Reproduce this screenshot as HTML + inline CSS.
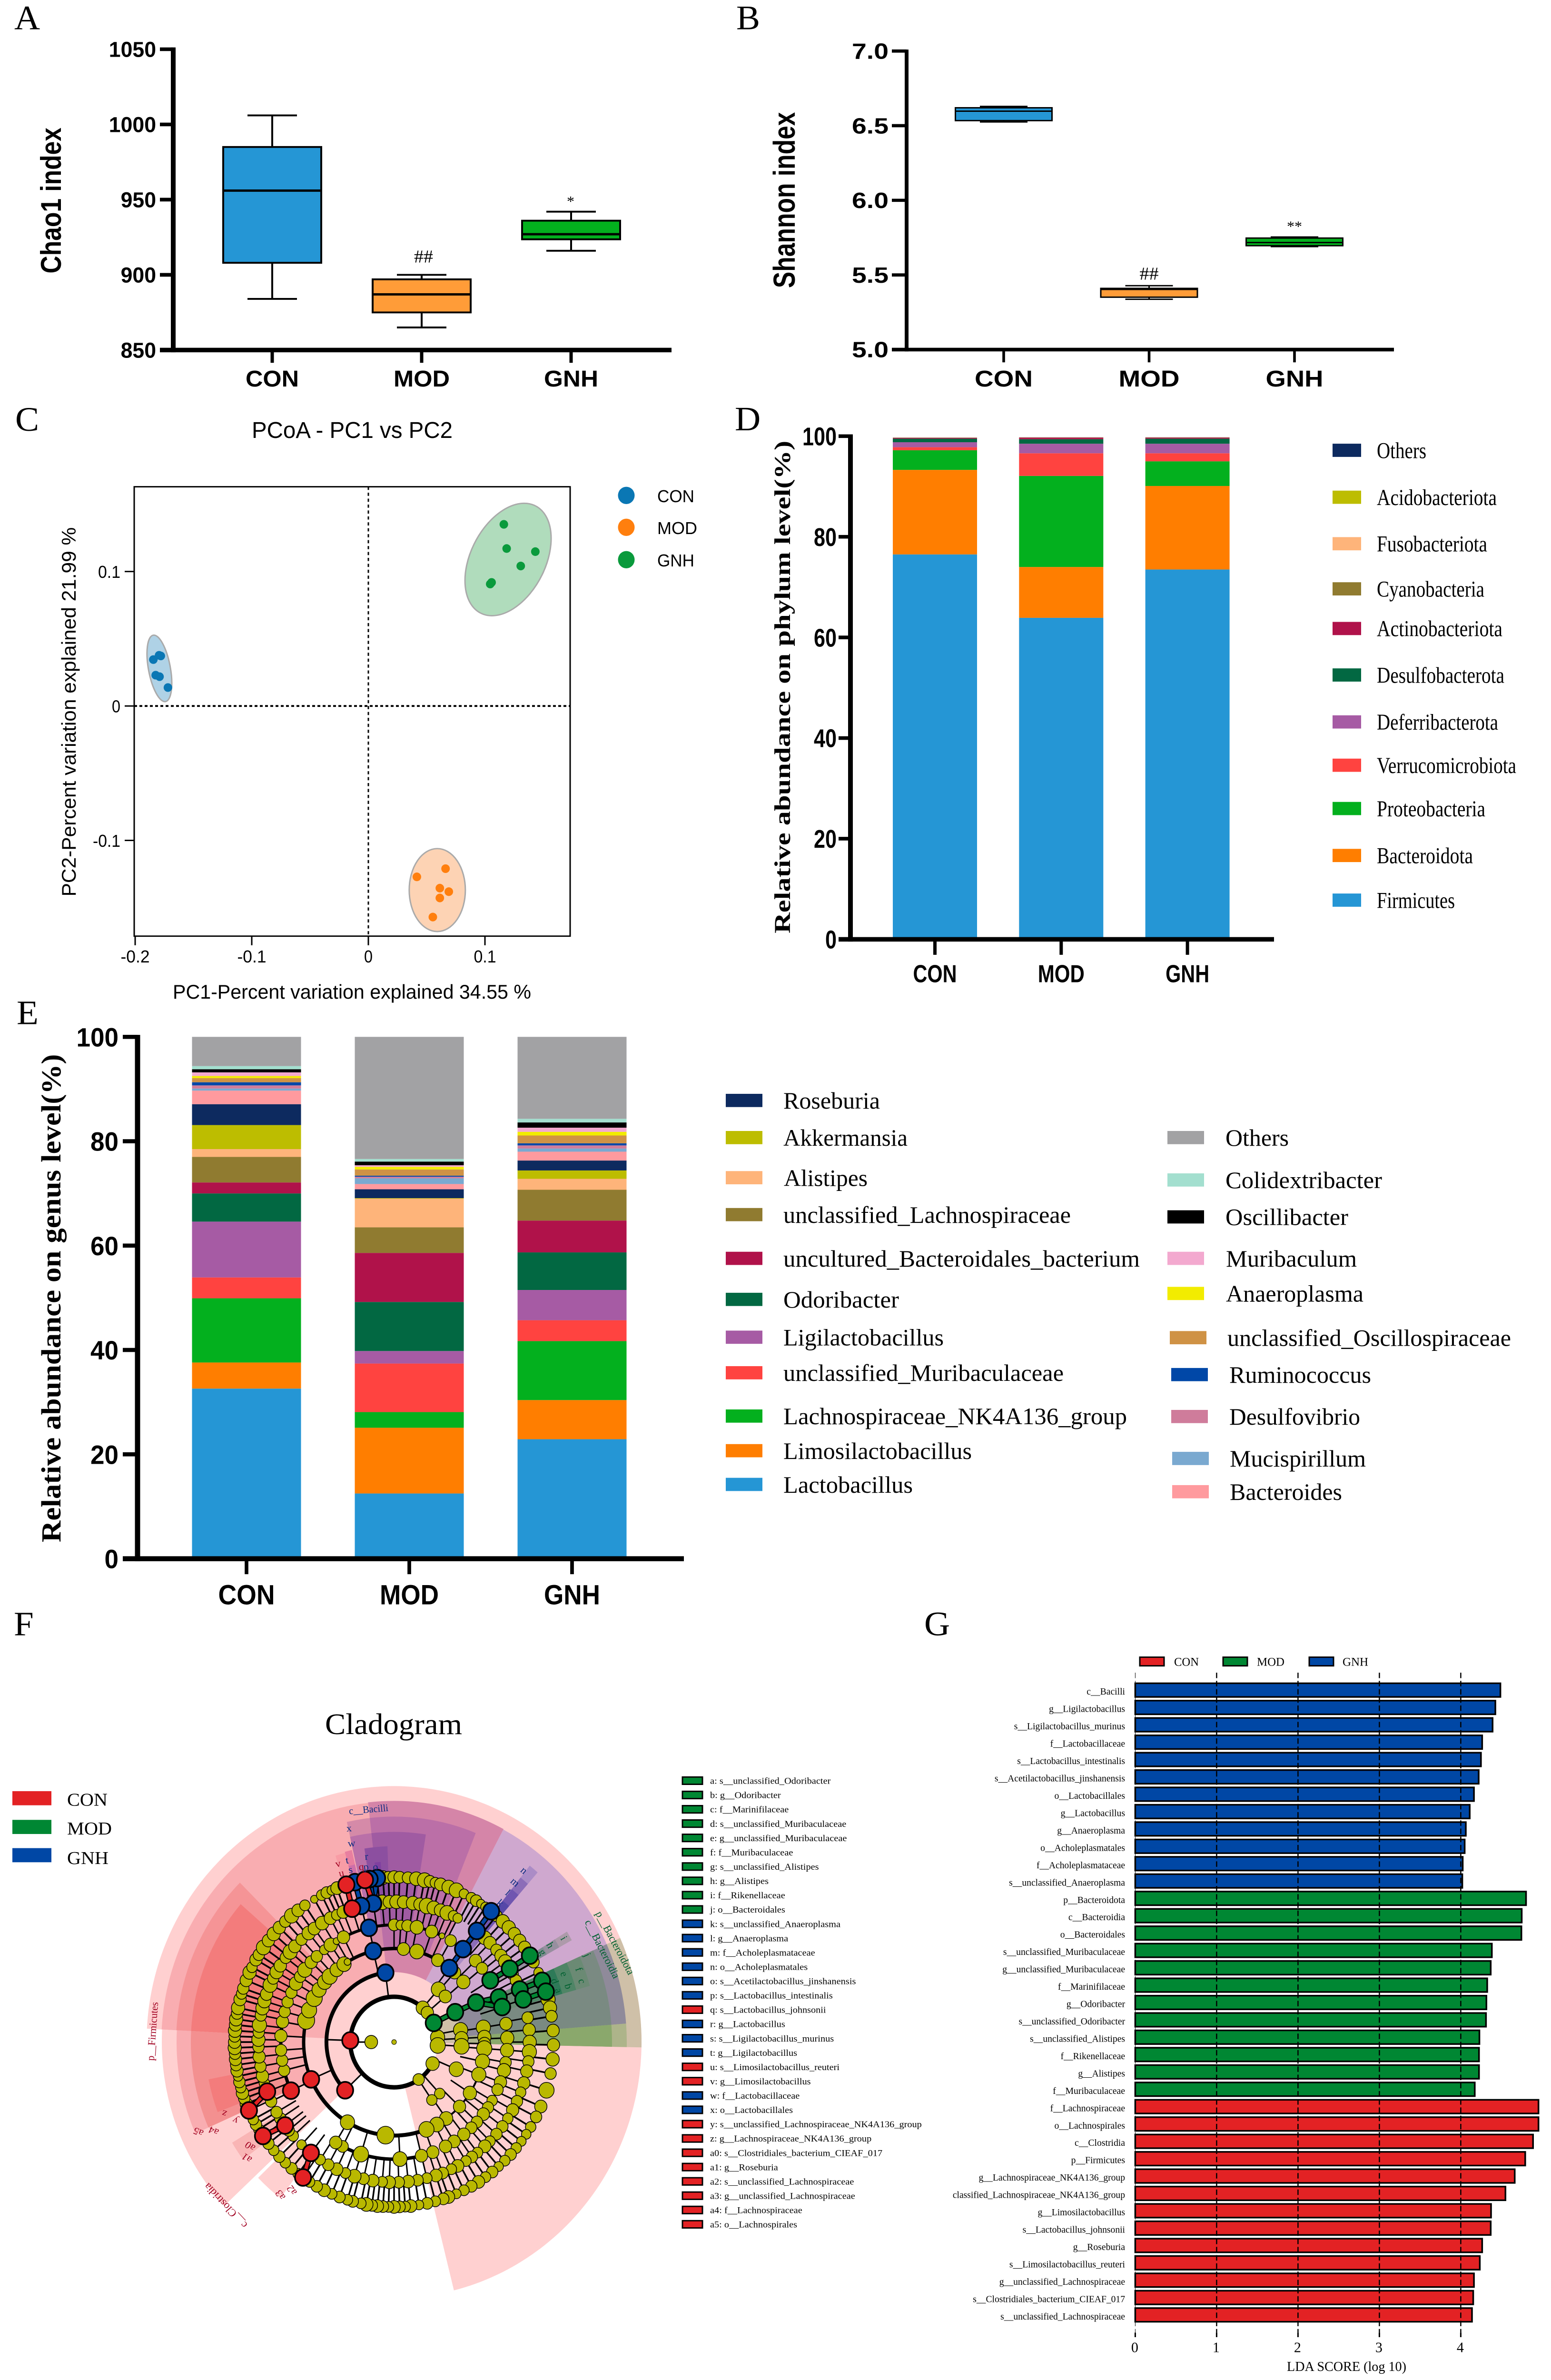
<!DOCTYPE html>
<html lang="en">
<head>
<meta charset="utf-8">
<title>Gut microbiota figure panels A-G</title>
<style>
html,body{margin:0;padding:0;background:#fff;width:100%;height:100%;overflow:hidden;}
svg{display:block;overflow:hidden;width:100vw;height:100vh;}
</style>
</head>
<body>
<svg id="figure" xmlns="http://www.w3.org/2000/svg" viewBox="0 0 3259 5222" preserveAspectRatio="none">
<rect width="3259" height="5222" fill="#fff"/>
<g id="panel-a"></g>
<g id="panel-b"></g>
<g id="panel-c"></g>
<g id="panel-d"></g>
<g id="panel-e"></g>
<g id="panel-f"></g>
<g id="panel-g"></g>
<g id="panel-letters"></g>
</svg>
<script>
/* ---------- chart data ---------- */
const groups = ['CON','MOD','GNH'];

// Panel A: Chao1
const chaoTicks = [850,900,950,1000,1050];
const chaoLow  = [884,865,916];
const chaoQ1   = [908,875,923.6];
const chaoMed  = [956,887,927];
const chaoQ3   = [985,897,936];
const chaoHigh = [1006,900,942];
const chaoMarks = ['','##','*'];

// Panel B: Shannon
const shannonTicks = ['5.0','5.5','6.0','6.5','7.0'];
const shannonLow  = [6.525,5.337,5.69];
const shannonQ1   = [6.534,5.351,5.696];
const shannonMed  = [6.597,5.403,5.717];
const shannonQ3   = [6.62,5.41,5.747];
const shannonHigh = [6.629,5.428,5.754];
const shannonMarks = ['','##','**'];

// Panel C: PCoA
const pcYTicks = ['0.1','0','-0.1'];
const pcYValues = [0.1,0,-0.1];
const pcXTicks = ['-0.2','-0.1','0','0.1'];
const pcXValues = [-0.2,-0.1,0,0.1];
const pc1Con = [-0.1795,-0.178,-0.1844,-0.1824,-0.1791,-0.1719];
const pc2Con = [0.0377,0.0372,0.0345,0.0229,0.0218,0.0137];
const pc1Mod = [0.0662,0.0416,0.0613,0.069,0.0613,0.0553];
const pc2Mod = [-0.121,-0.1271,-0.1355,-0.1381,-0.1428,-0.157];
const pc1Gnh = [0.1162,0.1186,0.1432,0.1307,0.1057,0.1045];
const pc2Gnh = [0.1351,0.1171,0.1148,0.1041,0.0919,0.0907];

// Panel D: phylum (bottom to top)
const phylumNames = ['Firmicutes','Bacteroidota','Proteobacteria','Verrucomicrobiota','Deferribacterota','Desulfobacterota','Actinobacteriota','Cyanobacteria','Fusobacteriota','Acidobacteriota','Others'];
const phylumCon = [76.5,16.8,3.9,0.6,1.0,0.7,0.15,0.03,0.02,0.02,0.02];
const phylumMod = [63.9,10.1,18.1,4.5,1.9,0.9,0.3,0.03,0.02,0.02,0.02];
const phylumGnh = [73.5,16.6,4.9,1.6,1.9,1.0,0.2,0.03,0.02,0.02,0.02];
const percentTicks = [0,20,40,60,80,100];

// Panel E: genus (bottom to top)
const genusNames = ['Lactobacillus','Limosilactobacillus','Lachnospiraceae_NK4A136_group','unclassified_Muribaculaceae','Ligilactobacillus','Odoribacter','uncultured_Bacteroidales_bacterium','unclassified_Lachnospiraceae','Alistipes','Akkermansia','Roseburia','Bacteroides','Mucispirillum','Desulfovibrio','Ruminococcus','unclassified_Oscillospiraceae','Anaeroplasma','Muribaculum','Oscillibacter','Colidextribacter','Others'];
const genusCon = [32.6,5,12.3,4,10.7,5.4,2.1,4.9,1.5,4.6,4,2.6,0.4,0.6,0.6,0.8,0.4,0.7,0.6,0.6,5.6];
const genusMod = [12.5,12.6,3,9.3,2.4,9.4,9.4,4.9,5.5,0.1,1.7,1,1.1,0.3,0.2,1.2,0.5,0.3,0.7,0.5,23.4];
const genusGnh = [22.9,7.5,11.3,4,5.8,7.2,6.1,5.9,2.1,1.6,1.9,1.7,0.6,0.6,0.4,1.5,0.7,0.8,1,0.7,15.7];

// Panel G: LDA
const ldaLabels = ['c__Bacilli','g__Ligilactobacillus','s__Ligilactobacillus_murinus','f__Lactobacillaceae','s__Lactobacillus_intestinalis','s__Acetilactobacillus_jinshanensis','o__Lactobacillales','g__Lactobacillus','g__Anaeroplasma','o__Acholeplasmatales','f__Acholeplasmataceae','s__unclassified_Anaeroplasma','p__Bacteroidota','c__Bacteroidia','o__Bacteroidales','s__unclassified_Muribaculaceae','g__unclassified_Muribaculaceae','f__Marinifilaceae','g__Odoribacter','s__unclassified_Odoribacter','s__unclassified_Alistipes','f__Rikenellaceae','g__Alistipes','f__Muribaculaceae','f__Lachnospiraceae','o__Lachnospirales','c__Clostridia','p__Firmicutes','g__Lachnospiraceae_NK4A136_group','classified_Lachnospiraceae_NK4A136_group','g__Limosilactobacillus','s__Lactobacillus_johnsonii','g__Roseburia','s__Limosilactobacillus_reuteri','g__unclassified_Lachnospiraceae','s__Clostridiales_bacterium_CIEAF_017','s__unclassified_Lachnospiraceae'];
const ldaValues = [4.487,4.425,4.391,4.263,4.248,4.22,4.162,4.11,4.062,4.048,4.024,4.019,4.802,4.749,4.745,4.382,4.368,4.325,4.315,4.31,4.229,4.224,4.224,4.172,4.955,4.955,4.888,4.792,4.663,4.549,4.372,4.368,4.263,4.234,4.162,4.153,4.138];
const ldaGroups = ['GNH','GNH','GNH','GNH','GNH','GNH','GNH','GNH','GNH','GNH','GNH','GNH','MOD','MOD','MOD','MOD','MOD','MOD','MOD','MOD','MOD','MOD','MOD','MOD','CON','CON','CON','CON','CON','CON','CON','CON','CON','CON','CON','CON','CON'];
const ldaTicks = [0,1,2,3,4];

// Panel F: cladogram nodes [angle in degrees, abundance size]
const level190 = [[351,15],[357,14],[1,13],[4,16],[12,15],[20.4,15],[33,14],[43.6,13],[54.8,14],[61.8,15],[69,16],[95.4,18],[121,15],[193.4,18],[200,16],[208,17],[214,15],[219.9,15],[224.6,16],[230.6,14],[236.4,15],[239,7],[276,13],[284.6,15],[298.9,13],[312,13],[320,14]];
const level142 = [[350,15],[357,14],[3.5,16],[22.9,15],[47.5,11],[56,11],[311,15],[319.3,13]];
const level92 = [[311,14],[319.5,13],[354,15],[4.3,16],[28.4,14],[55.8,12]];
const level238 = [[351,13],[358,14],[4,14],[10,12],[14,14],[20,13],[24,12],[30,11],[34,12],[38,13],[43,12],[47,12],[52,13],[58,13],[63,13],[70,13],[76,13],[87,15],[107,16],[117,12],[121,13],[166,12],[171,12],[176,12],[183,13],[190,13],[195,12],[200,12],[205,12],[210,14],[214,12],[218,15],[223,13],[227,12],[232,10],[236,14],[239.5,7],[243.5,13],[270,12],[273.4,10],[276.8,12],[281.6,14],[289.4,13],[295,6],[300,12],[316,13],[321,12]];
const level285 = [[350,12],[355,13],[0,14],[4,15],[8,12],[12,13],[17,13],[21,11],[25,12],[29,13],[33,11],[37,12],[41,12],[45,11],[48,13],[52,11],[55,12],[58,11],[62,13],[65,11],[69,12],[72,13],[76,11],[80,12],[84,13],[88,12],[92,13],[95,11],[99,13],[103,12],[107,14],[111,11],[115,13],[119,12],[123,11],[133,10],[138,11],[141,12],[147,12],[150,12],[155,12],[163,11],[166,13],[170,12],[174,13],[178,12],[181,14],[184,12],[187,15],[191,12],[194,14],[197,14],[200,13],[204,15],[207,12],[210,14],[213,13],[217,12],[220,15],[223,13],[227,12],[231,14],[234,13],[238,14],[242,13],[245,11],[248,13],[265,15],[268,13],[271,14],[274,13],[278,14],[281,13],[284,16],[287,14],[290,13],[293,15],[296,11],[298,10],[312,14],[315,13],[319,12],[322,13],[325,14],[331,12],[334,12]];
const level335 = [[345,15],[348,14],[351,12],[356,13],[1,13],[6,14],[11,12],[17,16],[23,13],[27,12],[31,11],[34,10],[37,10],[40,11],[43,12],[46,11],[49,10],[52,12],[55,11],[58,13],[61,12],[64,11],[67,10],[70,13],[72,12],[75,11],[78,12],[81,10],[84,13],[86,11],[88,12],[90,13],[92,11],[94,12],[96,13],[98,12],[100,14],[102,11],[105,12],[107,11],[110,12],[113,11],[116,13],[119,12],[122,11],[127,11],[130,12],[133,11],[136,12],[139,11],[142,12],[148,11],[150,12],[152,11],[158,13],[160,12],[162,13],[164,11],[166,12],[168,10],[170,13],[172,12],[174,13],[176,12],[178,14],[180,13],[182,12],[184,14],[186,13],[188,14],[190,12],[192,14],[195,13],[197,11],[199,12],[202,13],[205,14],[207,11],[210,13],[212,12],[215,15],[218,13],[221,14],[224,13],[227,12],[230,15],[233,13],[236,11],[240,8],[243,11],[245,12],[247,10],[249,13],[266,14],[268,12],[270,13],[272,12],[275,12],[278,14],[281,15],[283,12],[285,11],[287,13],[290,14],[293,15],[296,10],[299,11],[301,12],[303,9],[305,10],[310,12],[313,14],[316,14],[319,13],[322,13],[325,13],[331,12],[335,10]];
// enriched clades: [level radius index, angle, group]
const enrichedNodes = [[2,182,'CON'],[3,136.4,'CON'],[4,156.5,'CON'],[5,155.5,'CON'],[6,159.3,'CON'],[7,155.5,'CON'],[6,143.5,'CON'],[7,145.3,'CON'],[6,127.8,'CON'],[7,124.8,'CON'],
[3,262.7,'GNH'],[4,256.7,'GNH'],[5,257.2,'GNH'],[6,261.2,'GNH'],[7,263.9,'GNH'],[6,256,'GNH'],[7,255.8,'GNH'],[7,261.2,'GNH'],[4,307.7,'GNH'],[5,307.5,'GNH'],[6,307.6,'GNH'],[7,307.5,'GNH'],
[6,252,'CON'],[7,252.6,'CON'],[7,259.5,'CON'],
[2,335,'MOD'],[3,334.7,'MOD'],[4,335,'MOD'],[5,337.6,'MOD'],[5,342.6,'MOD'],[5,328.2,'MOD'],[6,328.5,'MOD'],[7,328.4,'MOD'],[6,338,'MOD'],[7,338.2,'MOD'],[6,342.3,'MOD'],[7,342.2,'MOD']];

/* ---------- helpers ---------- */
const NS = 'http://www.w3.org/2000/svg';
const SANS = '"Liberation Sans", sans-serif';
const SERIF = '"Liberation Serif", serif';
const C_BLUE='#2596d5', C_ORANGE='#ff9c38', C_GREEN='#03b01e';

function add(parent, tag, attrs, name) {
  const el = document.createElementNS(NS, tag);
  for (const k in attrs) el.setAttribute(k, attrs[k]);
  
  
  parent.appendChild(el);
  return el;
}
function line(p, x1, y1, x2, y2, w, name, extra) {
  return add(p, 'line', Object.assign({x1, y1, x2, y2, stroke:'#000', 'stroke-width':w}, extra || {}), name);
}
// o: size, len, anchor, font, weight, fill, rot
function txt(p, str, x, y, o, name) {
  const a = {'font-family':o.font || SERIF, 'font-size':o.size, fill:o.fill || '#000'};
  if (o.weight) a['font-weight'] = o.weight;
  let dx = 0;
  if (o.len) {
    a.textLength = o.len;
    a.lengthAdjust = 'spacingAndGlyphs';
    if (o.anchor === 'end') dx = -o.len;
    if (o.anchor === 'middle') dx = -o.len / 2;
  } else if (o.anchor) {
    a['text-anchor'] = o.anchor;
  }
  a.x = dx; a.y = 0;
  a.transform = 'translate(' + x + ' ' + y + ')' + (o.rot ? ' rotate(' + o.rot + ')' : '');
  const el = add(p, 'text', a, name);
  el.textContent = str;
  return el;
}
function slug(s){ return s.toLowerCase().replace(/[^a-z0-9]+/g,'-').replace(/^-|-$/g,''); }

/* ---------- panel letters ---------- */
(function(){
  const g = document.getElementById('panel-letters');
  txt(g,'A',30,64,{size:75},'panel-letter-a');
  txt(g,'B',1547,64,{size:75},'panel-letter-b');
  txt(g,'C',32,945,{size:75},'panel-letter-c');
  txt(g,'D',1544,944,{size:75},'panel-letter-d');
  txt(g,'E',35,2247,{size:75},'panel-letter-e');
  txt(g,'F',29,3588,{size:75},'panel-letter-f');
  txt(g,'G',1942,3588,{size:75},'panel-letter-g');
})();

/* ---------- box plots ---------- */
function boxPlot(g, cfg) {
  const boxFill = [C_BLUE, C_ORANGE, C_GREEN];
  groups.forEach(function(cat, i){
    const cx = cfg.x(i);
    const gb = add(g,'g',{},'box-'+slug(cat));
    line(gb,cx,cfg.y(cfg.high[i]),cx,cfg.y(cfg.low[i]),cfg.sw,'whisker-'+slug(cat));
    line(gb,cx-cfg.cap,cfg.y(cfg.high[i]),cx+cfg.cap,cfg.y(cfg.high[i]),cfg.sw,'whisker-cap-high-'+slug(cat));
    line(gb,cx-cfg.cap,cfg.y(cfg.low[i]),cx+cfg.cap,cfg.y(cfg.low[i]),cfg.sw,'whisker-cap-low-'+slug(cat));
    add(gb,'rect',{x:cx-cfg.half,y:cfg.y(cfg.q3[i]),width:cfg.half*2,height:cfg.y(cfg.q1[i])-cfg.y(cfg.q3[i]),fill:boxFill[i],stroke:'#000','stroke-width':cfg.sw},'box-body-'+slug(cat));
    line(gb,cx-cfg.half,cfg.y(cfg.med[i]),cx+cfg.half,cfg.y(cfg.med[i]),cfg.medw,'median-'+slug(cat));
    if (cfg.marks[i]) {
      const up = cfg.marks[i].charAt(0)==='#' ? cfg.hashGap : cfg.starGap;
      txt(gb,cfg.marks[i],cx+cfg.markDx[i],cfg.y(cfg.high[i])-up,{size:cfg.marks[i].charAt(0)==='#'?40:32,anchor:'middle'},'significance-mark-'+slug(cat));
    }
  });
}
function catAxis(g, x0, top, bottom, leftTick, xEnd, axisW, tickLen, xs, labels, labelY, labelSize, labelLens) {
  line(g,x0,top-axisW*0.4,x0,bottom+axisW/2,axisW,'y-axis-line');
  line(g,leftTick,bottom,xEnd,bottom,axisW,'x-axis-line');
  labels.forEach(function(c,i){
    line(g,xs(i),bottom,xs(i),bottom+tickLen,axisW*0.7,'x-tick-'+slug(c));
    txt(g,c,xs(i),labelY,{font:SANS,weight:'bold',size:labelSize,anchor:'middle',len:labelLens[i]},'x-label-'+slug(c));
  });
}

(function(){
  const g = document.getElementById('panel-a');
  const y = function(v){ return 768-(v-850)*3.3; };
  const x = function(i){ return 572+314*i; };
  boxPlot(g,{x:x,y:y,low:chaoLow,q1:chaoQ1,med:chaoMed,q3:chaoQ3,high:chaoHigh,marks:chaoMarks,half:103,cap:52,sw:4,medw:5,hashGap:27,starGap:12,markDx:[0,4,-1]});
  catAxis(g,364,y(1050),768,336,1411,10,28,x,groups,848,50,[112,118,114]);
  chaoTicks.forEach(function(t){
    line(g,336,y(t),364,y(t),8,'y-tick-'+t);
    txt(g,String(t),328,y(t)+17,{font:SANS,weight:'bold',size:47,anchor:'end',len:String(t).length*24.8},'y-tick-label-'+t);
  });
  txt(g,'Chao1 index',128,600,{font:SANS,weight:'bold',size:60,len:320,rot:-90},'y-axis-title');
})();

(function(){
  const g = document.getElementById('panel-b');
  const y = function(v){ return 767-(v-5)*327.5; };
  const x = function(i){ return 2109+305.5*i; };
  boxPlot(g,{x:x,y:y,low:shannonLow,q1:shannonQ1,med:shannonMed,q3:shannonQ3,high:shannonHigh,marks:shannonMarks,half:101.5,cap:50,sw:3,medw:3,hashGap:13,starGap:13,markDx:[0,0,0]});
  catAxis(g,1905,y(7),767,1874,2929,8,28,x,groups,848,50,[122,128,121]);
  shannonTicks.forEach(function(t){
    const v = parseFloat(t);
    line(g,1874,y(v),1905,y(v),7,'y-tick-'+slug(t));
    txt(g,t,1867,y(v)+17,{font:SANS,weight:'bold',size:48,anchor:'end',len:77},'y-tick-label-'+slug(t));
  });
  txt(g,'Shannon index',1670,632,{font:SANS,weight:'bold',size:64,len:386,rot:-90},'y-axis-title');
})();

/* ---------- PCoA ---------- */
(function(){
  const g = document.getElementById('panel-c');
  const x = function(v){ return 774+2450*v; };
  const y = function(v){ return 1549-2950*v; };
  const dotColors = {CON:'#0a77b4',MOD:'#ff7f0e',GNH:'#0a9a3c'};
  const ellFill = {CON:'#afd2e6',MOD:'#fdd3b4',GNH:'#b0dcbc'};
  const ellShape = {CON:[23,74,-10],MOD:[59,91,0],GNH:[79,131,25]};
  const px = {CON:pc1Con,MOD:pc1Mod,GNH:pc1Gnh};
  const py = {CON:pc2Con,MOD:pc2Mod,GNH:pc2Gnh};
  txt(g,'PCoA - PC1 vs PC2',529,961,{font:SANS,size:50,len:422},'chart-title');
  add(g,'rect',{x:282,y:1068,width:916,height:986,fill:'#fff',stroke:'#000','stroke-width':3},'plot-frame');
  groups.forEach(function(c){
    const mx = px[c].reduce(function(a,b){return a+b;},0)/px[c].length;
    const my = py[c].reduce(function(a,b){return a+b;},0)/py[c].length;
    const s = ellShape[c];
    add(g,'ellipse',{cx:x(mx),cy:y(my),rx:s[0],ry:s[1],fill:ellFill[c],stroke:'#aaa','stroke-width':3,transform:'rotate('+s[2]+' '+x(mx)+' '+y(my)+')'},'confidence-ellipse-'+slug(c));
  });
  line(g,x(0),1068,x(0),2054,3,'zero-line-vertical',{'stroke-dasharray':'7 6'});
  line(g,282,y(0),1198,y(0),4,'zero-line-horizontal',{'stroke-dasharray':'6 5'});
  groups.forEach(function(c){
    px[c].forEach(function(v,i){
      add(g,'ellipse',{cx:x(v),cy:y(py[c][i]),rx:9,ry:9.5,fill:dotColors[c]},'point-'+slug(c));
    });
  });
  pcYValues.forEach(function(v,i){
    line(g,262,y(v),282,y(v),3,'y-tick-'+i);
    txt(g,pcYTicks[i],253,y(v)+14,{font:SANS,size:38,anchor:'end',len:pcYTicks[i].length===1?18:(pcYTicks[i].length===3?47:58)},'y-tick-label-'+i);
  });
  pcXValues.forEach(function(v,i){
    line(g,x(v),2054,x(v),2074,3,'x-tick-'+i);
    txt(g,pcXTicks[i],x(v),2112,{font:SANS,size:38,anchor:'middle',len:pcXTicks[i].length===1?18:(pcXTicks[i].length===3?47:61)},'x-tick-label-'+i);
  });
  txt(g,'PC1-Percent variation explained 34.55 %',363,2191,{font:SANS,size:44,len:753},'x-axis-title');
  txt(g,'PC2-Percent variation explained 21.99 %',159,1967,{font:SANS,size:42,len:810,rot:-90},'y-axis-title');
  const legendRows = [['CON',1087,1102,78],['MOD',1157,1172,84],['GNH',1228,1243,78]];
  legendRows.forEach(function(r){
    add(g,'ellipse',{cx:1316,cy:r[1],rx:17.5,ry:19,fill:dotColors[r[0]]},'legend-marker-'+slug(r[0]));
    txt(g,r[0],1381,r[2],{font:SANS,size:38,len:r[3]},'legend-label-'+slug(r[0]));
  });
})();

/* ---------- stacked bars ---------- */
const phylumColors = ['#2596d5','#ff7e00','#03b01e','#ff4340','#a65ba4','#026842','#b0124a','#907b30','#feb47a','#bdbd00','#0d2a5f'];
const genusColors = ['#2596d5','#ff7e00','#03b01e','#ff4340','#a65ba4','#026842','#b0124a','#907b30','#feb47a','#bdbd00','#0d2a5f','#ff9a9e','#7aa9d0','#cf7c9b','#0047a7','#cf9245','#f2ec00','#f3a9cf','#000000','#a3dfcf','#a2a2a4'];

function stacked(g, names, colors, cols, x, y, half) {
  cols.forEach(function(col,i){
    const gb = add(g,'g',{},'stack-'+slug(groups[i]));
    let acc = 0;
    col.forEach(function(v,j){
      const top = y(acc+v), bot = y(acc);
      add(gb,'rect',{x:x(i)-half,y:top,width:half*2,height:Math.max(bot-top,0),fill:colors[j]},'segment-'+slug(names[j])+'-'+slug(groups[i]));
      acc += v;
    });
  });
}

(function(){
  const g = document.getElementById('panel-d');
  const y = function(v){ return 2061-11.04*v; };
  const x = function(i){ return 1964.5+265.3*i; };
  stacked(g,phylumNames,phylumColors,[phylumCon,phylumMod,phylumGnh],x,y,88.5);
  catAxis(g,1787,y(100),2061,1762,2677,10,34,x,groups,2155,54,[92,98,92]);
  percentTicks.forEach(function(t){
    line(g,1762,y(t),1787,y(t),8,'y-tick-'+t);
    txt(g,String(t),1758,y(t)+20,{font:SANS,weight:'bold',size:56,anchor:'end',len:String(t).length*24},'y-tick-label-'+t);
  });
  txt(g,'Relative abundance on phylum level(%)',1660,2048,{weight:'bold',size:48,len:1081,rot:-90},'y-axis-title');
  const rows = [['Others',988,104,'#0d2a5f'],['Acidobacteriota',1091,252,'#bdbd00'],['Fusobacteriota',1193,232,'#feb47a'],['Cyanobacteria',1292,226,'#907b30'],['Actinobacteriota',1379,264,'#b0124a'],['Desulfobacterota',1481,268,'#026842'],['Deferribacterota',1584,255,'#a65ba4'],['Verrucomicrobiota',1679,293,'#ff4340'],['Proteobacteria',1774,228,'#03b01e'],['Bacteroidota',1877,202,'#ff7e00'],['Firmicutes',1975,164,'#2596d5']];
  rows.forEach(function(r){
    add(g,'rect',{x:2800,y:r[1]-14.5,width:60,height:29,fill:r[3]},'legend-swatch-'+slug(r[0]));
    txt(g,r[0],2893,r[1]+17,{size:50,len:r[2]},'legend-label-'+slug(r[0]));
  });
})();

(function(){
  const g = document.getElementById('panel-e');
  const y = function(v){ return 3420-11.45*v; };
  const x = function(i){ return 518+342*i; };
  stacked(g,genusNames,genusColors,[genusCon,genusMod,genusGnh],x,y,114.5);
  catAxis(g,289,y(100),3420,258,1437,11,34,x,groups,3520,61,[119,124,118]);
  percentTicks.forEach(function(t){
    line(g,258,y(t),289,y(t),9,'y-tick-'+t);
    txt(g,String(t),249,y(t)+21,{font:SANS,weight:'bold',size:58,anchor:'end',len:String(t).length*29.5},'y-tick-label-'+t);
  });
  txt(g,'Relative abundance on genus level(%)',127,3384,{weight:'bold',size:58,len:1071,rot:-90},'y-axis-title');
  const rows = [
    ['Roseburia',1525,2414.5,1646,203,'#0d2a5f'],['Akkermansia',1525,2496,1646,261,'#bdbd00'],['Alistipes',1525,2584,1647,176,'#feb47a'],['unclassified_Lachnospiraceae',1525,2665,1646,604,'#907b30'],['uncultured_Bacteroidales_bacterium',1525,2761,1646,749,'#b0124a'],['Odoribacter',1525,2851,1646,243,'#026842'],['Ligilactobacillus',1525,2934,1646,337,'#a65ba4'],['unclassified_Muribaculaceae',1525,3012,1646,589,'#ff4340'],['Lachnospiraceae_NK4A136_group',1525,3107,1646,722,'#03b01e'],['Limosilactobacillus',1525,3183,1646,396,'#ff7e00'],['Lactobacillus',1525,3257,1646,272,'#2596d5'],
    ['Others',2453,2496,2575,133,'#a2a2a4'],['Colidextribacter',2453,2589,2575,329,'#a3dfcf'],['Oscillibacter',2453,2670,2575,258,'#000000'],['Muribaculum',2453,2761,2576,275,'#f3a9cf'],['Anaeroplasma',2453,2838,2576,289,'#f2ec00'],['unclassified_Oscillospiraceae',2458,2935,2579,596,'#cf9245'],['Ruminococcus',2461,3016,2583,298,'#0047a7'],['Desulfovibrio',2461,3108,2583,275,'#cf7c9b'],['Mucispirillum',2463,3200,2584,286,'#7aa9d0'],['Bacteroides',2463,3273,2584,236,'#ff9a9e']];
  rows.forEach(function(r){
    add(g,'rect',{x:r[1],y:r[2]-14.5,width:77,height:29,fill:r[5]},'legend-swatch-'+slug(r[0]));
    txt(g,r[0],r[3],r[2]+18,{size:52,len:r[4]},'legend-label-'+slug(r[0]));
  });
})();

/* ---------- cladogram ---------- */
(function(){
  const g = document.getElementById('panel-f');
  const RAD = [0,48,92,142,190,238,285,335];
  const cladeColor = {CON:'#e32224',MOD:'#008733',GNH:'#0047a5'};
  function pol(r,a){ const t=a*Math.PI/180; return [r*Math.cos(t),r*Math.sin(t)]; }
  function sector(r0,r1,a0,a1){
    const L=(a1-a0)>180?1:0, p1=pol(r1,a0), p2=pol(r1,a1), p3=pol(r0,a1), p4=pol(r0,a0);
    return 'M'+p1+' A'+r1+' '+r1+' 0 '+L+' 1 '+p2+' L'+p3+' A'+r0+' '+r0+' 0 '+L+' 0 '+p4+' Z';
  }
  function arc(r,a0,a1){
    const L=(a1-a0)>180?1:0, p1=pol(r,a0), p2=pol(r,a1);
    return 'M'+p1+' A'+r+' '+r+' 0 '+L+' 1 '+p2;
  }
  txt(g,'Cladogram',683,3805,{size:65,len:288},'cladogram-title');
  [['CON',3930,3962,85],['MOD',3993,4025,94],['GNH',4055,4090,87]].forEach(function(r){
    add(g,'rect',{x:26,y:r[1],width:82,height:31,fill:cladeColor[r[0]]},'cladogram-legend-swatch-'+slug(r[0]));
    txt(g,r[0],141,r[2],{size:40,len:r[3]},'cladogram-legend-label-'+slug(r[0]));
  });
  const tree = add(g,'g',{transform:'translate(828 4480.5) scale(1 1.08)'},'cladogram-tree');
  const wedges = [
    [92,520,183,436,'#ffd0d0'],[92,520,336,361.2,'#cfc0a8'],[92,488,137,183,'#ffd0d0'],
    [142,489,183,298,'#f9adb1'],[142,490,263.6,298,'#d585a8'],
    [142,489,298,336,'#cfa8cf'],[142,489,336,355.6,'#8f8a9a'],[142,489,355.6,361.2,'#adb48a'],
    [190,458,336,355.6,'#7a8a82'],[190,458,355.6,361.2,'#8aa86c'],
    [190,458,257.5,263.6,'#d58aa8'],[190,458,263.6,292,'#bb6fa7'],
    [238,427,257.5,263.6,'#ba70a8'],[238,427,263.6,279,'#a05ba2'],
    [285,398,261,268,'#8c4fa0'],[335,367,263.6,265.6,'#8040a0'],
    [285,400,255,257.2,'#e87fa0'],[335,370,255,257.2,'#cf6fa8'],[285,398,252,255,'#f89ca5'],
    [190,458,183,225,'#f59496'],[238,427,183,221,'#f37c7c'],
    [190,457,156,183,'#f9adb1'],[238,427,156,183,'#f39090'],
    [285,397,159,169,'#f37c7c'],[285,397,143,149,'#f9b5b5'],[285,397,127,136,'#ffd0d0'],
    [190,458,308.5,311.2,'#ab8cc6'],[238,427,308.5,311.2,'#8c6db8'],[285,397,308.5,311.2,'#7056b0'],[335,367,308.5,311.2,'#5648a8'],
    [238,427,328.3,331,'#ad9aaa'],[285,397,328.3,331,'#978f9f'],[335,367,328.3,331,'#7f8a90'],
    [238,427,336,340,'#6b8a74'],[285,397,336,340,'#4f8566'],[335,367,336,340,'#2e7a58'],
    [238,427,340,344.5,'#6b8a74'],[285,397,340,344.5,'#4f8566'],[335,367,340,344.5,'#2e7a58']
  ];
  wedges.forEach(function(w){
    add(tree,'path',{d:sector(w[0],w[1],w[2],w[3]),fill:w[4]},'clade-wedge');
  });
  // spokes
  const levels = [null,[[180,13.5]],level92,level142,level190,level238,level285,level335];
  function spoke(r0,r1,a,w){
    const p=pol(r0,a), q=pol(r1,a);
    line(tree,p[0],p[1],q[0],q[1],w,'clade-branch');
  }
  for (let lv=3; lv<=7; lv++) {
    levels[lv].forEach(function(n){
      const a=(n[0]+360)%360;
      const lowRight = (a>=300 || a<=60);
      if (lv>=5 || lowRight) spoke(RAD[lv-1],RAD[lv],n[0],lv===7?3.5:3);
    });
  }
  enrichedNodes.forEach(function(n){
    if (n[0]>=3) spoke(RAD[n[0]-1],RAD[n[0]],n[1],3);
  });
  spoke(RAD[2],RAD[3],182,3);
  spoke(RAD[1],RAD[2],180,3);
  // thick arcs
  const arcs = [[92,28,311,9],[142,136.4,262.7,8],[142,311,319.3,4],[142,47.5,56,5],
    [190,69,156.5,8],[190,156.5,193.4,7],[190,239,299,7],[190,20.4,54.8,4],[190,351,372,4],
    [238,155.5,193,7],[238,243.5,295,6],[238,76,121,7],[238,20,63,4],[238,351,374,4],[238,200,236,3],
    [285,176,190,4],[285,268,287,3],[285,60,100,3]];
  arcs.forEach(function(a){
    add(tree,'path',{d:arc(a[0],a[1],a[2]),fill:'none',stroke:'#000','stroke-width':a[3]},'clade-arc');
  });
  // enriched links
  const links = [[3,334.7,2,335,'MOD'],[4,335,3,334.7,'MOD'],[5,337.6,4,335,'MOD'],[5,342.6,4,335,'MOD'],[6,328.5,5,328.2,'MOD'],[7,328.4,6,328.5,'MOD'],[7,338.2,6,338,'MOD'],[7,342.2,6,342.3,'MOD'],
    [5,307.5,4,307.7,'GNH'],[6,307.6,5,307.5,'GNH'],[7,307.5,6,307.6,'GNH'],[7,263.9,6,261.2,'GNH'],[7,261.2,6,261.2,'GNH'],[7,255.8,6,256,'GNH'],
    [7,252.6,6,252,'CON'],[7,259.5,6,261.2,'CON'],[7,155.5,6,159.3,'CON'],[7,145.3,6,143.5,'CON'],[7,124.8,6,127.8,'CON']];
  links.forEach(function(l){
    const p=pol(RAD[l[0]],l[1]), q=pol(RAD[l[2]],l[3]);
    line(tree,p[0],p[1],q[0],q[1],12,'clade-link-outline');
    line(tree,p[0],p[1],q[0],q[1],7,'clade-link',{stroke:cladeColor[l[4]]});
  });
  // yellow nodes
  add(tree,'circle',{cx:0,cy:0,r:5,fill:'#b9b800',stroke:'#000','stroke-width':1},'clade-root-node');
  for (let lv=1; lv<=7; lv++) {
    levels[lv].forEach(function(n){
      const p=pol(RAD[lv],n[0]);
      add(tree,'circle',{cx:p[0],cy:p[1],r:n[1],fill:'#b9b800',stroke:'#000','stroke-width':1.5},'clade-node');
    });
  }
  // enriched nodes
  enrichedNodes.forEach(function(n){
    const p=pol(RAD[n[0]],n[1]);
    add(tree,'circle',{cx:p[0],cy:p[1],r:17,fill:cladeColor[n[2]],stroke:'#000','stroke-width':3.5},'clade-node-'+slug(n[2]));
  });
  // labels
  const NAVY='#0a2a80', DG='#006030', DR='#a00020';
  const labels = [
    ['c__Bacilli',868,455,-5,NAVY,22,83],['x',822,495,-5,NAVY,22],['w',828,527,-5,NAVY,22],['r',863,555,-5,NAVY,22],['o',884,577,-4,NAVY,22],['t',818,563,-10,NAVY,22],['s',826,583,-10,NAVY,22],['v',797,570,-12,DR,22],['u',805,590,-12,DR,22],['q',851,577,-6,DR,22],['p',862,577,-6,NAVY,22],
    ['n',1228,583,40,NAVY,22],['m',1207,608,40,NAVY,22],['l',1190,630,40,NAVY,22],['k',1172,652,40,NAVY,22],
    ['i',1320,725,60,DG,22],['h',1288,740,60,DG,22],['g',1270,755,60,DG,22],['j',1375,760,65,DG,22],['f',1355,790,70,DG,22],['c',1362,815,72,DG,22],['e',1320,800,70,DG,22],['b',1330,826,72,DG,22],['d',1298,815,70,DG,22],['a',1307,835,72,DG,22],
    ['p__Bacteroidota',1440,735,63,DG,23,153],['c__Bacteroidia',1410,748,64,DG,23,140],
    ['p__Firmicutes',367,920,-86,DR,22,129],['c__Clostridia',537,1285,-132,DR,23,124],
    ['a5',470,1127,205,DR,22],['a4',506,1125,205,DR,22],['z',530,1088,200,DR,22],['y',557,1103,205,DR,22],['a0',593,1158,215,DR,22],['a1',585,1183,215,DR,22],['a2',693,1253,235,DR,22],['a3',666,1263,235,DR,22]
  ];
  labels.forEach(function(l){
    txt(g,l[0],l[1]*0.8929,3500+l[2]*1.0332+7,{size:l[5],fill:l[4],rot:l[3],anchor:'middle',len:l[6]},'clade-label-'+slug(l[0]));
  });
  // long legend
  const lg = [['a: s__unclassified_Odoribacter',873,'MOD'],['b: g__Odoribacter',608,'MOD'],['c: f__Marinifilaceae',650,'MOD'],['d: s__unclassified_Muribaculaceae',956,'MOD'],['e: g__unclassified_Muribaculaceae',959,'MOD'],['f: f__Muribaculaceae',673,'MOD'],['g: s__unclassified_Alistipes',810,'MOD'],['h: g__Alistipes',543,'MOD'],['i: f__Rikenellaceae',631,'MOD'],['j: o__Bacteroidales',631,'MOD'],['k: s__unclassified_Anaeroplasma',925,'GNH'],['l: g__Anaeroplasma',647,'GNH'],['m: f__Acholeplasmataceae',790,'GNH'],['n: o__Acholeplasmatales',751,'GNH'],['o: s__Acetilactobacillus_jinshanensis',1007,'GNH'],['p: s__Lactobacillus_intestinalis',884,'GNH'],['q: s__Lactobacillus_johnsonii',848,'CON'],['r: g__Lactobacillus',631,'GNH'],['s: s__Ligilactobacillus_murinus',890,'GNH'],['t: g__Ligilactobacillus',695,'GNH'],['u: s__Limosilactobacillus_reuteri',920,'CON'],['v: g__Limosilactobacillus',767,'CON'],['w: f__Lactobacillaceae',708,'GNH'],['x: o__Lactobacillales',672,'GNH'],['y: s__unclassified_Lachnospiraceae_NK4A136_group',1357,'CON'],['z: g__Lachnospiraceae_NK4A136_group',1090,'CON'],['a0: s__Clostridiales_bacterium_CIEAF_017',1148,'CON'],['a1: g__Roseburia',593,'CON'],['a2: s__unclassified_Lachnospiraceae',997,'CON'],['a3: g__unclassified_Lachnospiraceae',1003,'CON'],['a4: f__Lachnospiraceae',722,'CON'],['a5: o__Lachnospirales',695,'CON']];
  lg.forEach(function(r,i){
    const y=3907+i*31.4;
    add(g,'rect',{x:1434,y:y-8,width:42,height:16,fill:cladeColor[r[2]],stroke:'#000','stroke-width':3},'clade-key-swatch');
    txt(g,r[0],1492,y+7,{size:20,len:(r[1]-232)*0.3954},'clade-key-label');
  });
})();

/* ---------- LDA ---------- */
(function(){
  const g = document.getElementById('panel-g');
  const col = {CON:'#e32224',MOD:'#008733',GNH:'#0047a5'};
  const x = function(v){ return 2385.4+171*v; };
  const rowY = function(i){ return 3708.3+38.08*i; };
  const labelStart = [372,275,185,278,193,135,289,305,296,253,243,172,312,325,304,157,155,298,320,197,226,305,350,285,278,289,341,332,94,27,246,207,337,173,147,79,150];
  [['CON',2395,2467,52],['MOD',2570,2641,58],['GNH',2751,2821,54]].forEach(function(r){
    add(g,'rect',{x:r[1],y:3636,width:51,height:19,fill:col[r[0]],stroke:'#000','stroke-width':3},'lda-legend-swatch-'+slug(r[0]));
    txt(g,r[0],r[2],3655,{size:26,len:r[3]},'lda-legend-label-'+slug(r[0]));
  });
  ldaValues.forEach(function(v,i){
    const y=rowY(i);
    add(g,'rect',{x:x(0),y:y-15,width:x(v)-x(0),height:30,fill:col[ldaGroups[i]],stroke:'#000','stroke-width':3.5},'lda-bar-'+slug(ldaLabels[i]));
    txt(g,ldaLabels[i],2364,y+10,{size:21,anchor:'end',len:(471-labelStart[i])*0.8157},'lda-label-'+slug(ldaLabels[i]));
  });
  ldaTicks.forEach(function(t){
    line(g,x(t),3670,x(t),5118,t===0?1:2.5,'lda-grid-'+t,{'stroke-dasharray':'12 6'});
    line(g,x(t),5118,x(t),5128,3,'lda-tick-'+t);
    txt(g,String(t),x(t)-1,5161,{size:32,anchor:'middle',len:15},'lda-tick-label-'+t);
  });
  txt(g,'LDA SCORE (log 10)',2704,5202,{size:30,len:251},'x-axis-title');
})();
</script>
</body>
</html>
